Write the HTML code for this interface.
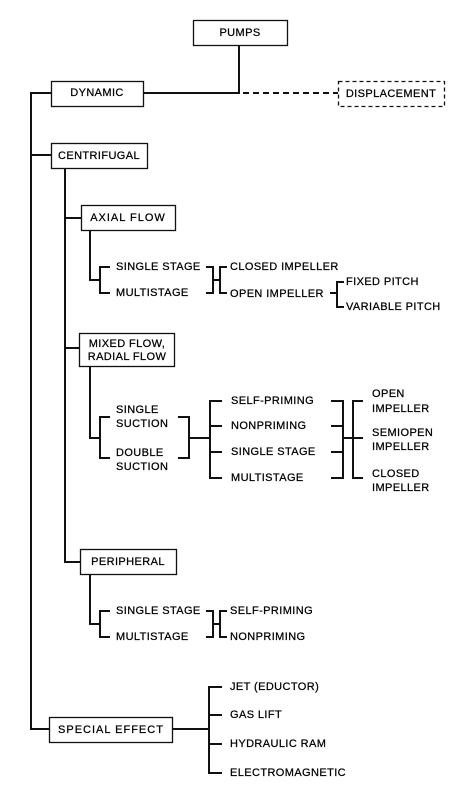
<!DOCTYPE html>
<html><head><meta charset="utf-8"><style>
html,body{margin:0;padding:0;background:#fff;}
svg{display:block;}
text{font-family:"Liberation Sans",sans-serif;font-size:11px;fill:#000;letter-spacing:0.4px;dominant-baseline:central;stroke:#000;stroke-width:0.25px;}
</style></head><body>
<svg width="462" height="789" viewBox="0 0 462 789" xmlns="http://www.w3.org/2000/svg">
<g fill="none" stroke="#111" stroke-width="1.3">
<rect x="193.5" y="20.5" width="94" height="25"/>
<rect x="51.5" y="81.5" width="92" height="25"/>
<rect x="338.5" y="81.5" width="106" height="25" stroke-dasharray="4,3"/>
<rect x="51.5" y="143.5" width="96" height="25"/>
<rect x="81.5" y="205.5" width="94" height="25"/>
<rect x="79.5" y="333.5" width="95" height="33"/>
<rect x="80.5" y="549.5" width="96" height="25"/>
<rect x="49.5" y="717.5" width="123" height="25"/>
</g>
<g fill="none" stroke="#111" stroke-width="2">
<path d="M239 45V93H143"/>
<path d="M243 93H338" stroke-dasharray="6,4"/>
<path d="M51 93H31V729H49"/>
<path d="M31 155H51"/>
<path d="M65 168V562H80M65 218H81M65 348H79"/>
<path d="M90 230V280H100M110 267H100V293H110"/>
<path d="M206 267H213V293H206M213 280H220M227 267H220V293H227"/>
<path d="M330 293H337M344 282H337V307H344"/>
<path d="M90 366V438H100M110 417H100V458H110"/>
<path d="M178 417H189V458H178M189 438H210"/>
<path d="M222 401H210V478H222M210 426H222M210 452H222"/>
<path d="M331 401H343V478H331M331 426H343M331 452H343M343 438H353"/>
<path d="M363 401H353V478H363M353 438H363"/>
<path d="M90 574V624H100M110 611H100V637H110"/>
<path d="M206 611H213V637H206M213 624H220M227 611H220V637H227"/>
<path d="M172 729H209M222 687H209V773H222M209 715H222M209 744H222"/>
</g>
<text x="240" y="33" text-anchor="middle">PUMPS</text>
<text x="97" y="93" text-anchor="middle">DYNAMIC</text>
<text x="391" y="94" text-anchor="middle">DISPLACEMENT</text>
<text x="99" y="156" text-anchor="middle">CENTRIFUGAL</text>
<text x="128" y="218" text-anchor="middle" style="letter-spacing:1px">AXIAL FLOW</text>
<text x="116" y="267">SINGLE STAGE</text>
<text x="116" y="293">MULTISTAGE</text>
<text x="230" y="267">CLOSED IMPELLER</text>
<text x="230" y="294">OPEN IMPELLER</text>
<text x="346" y="282">FIXED PITCH</text>
<text x="346" y="307">VARIABLE PITCH</text>
<text x="127" y="344" text-anchor="middle">MIXED FLOW,</text>
<text x="127" y="357" text-anchor="middle">RADIAL FLOW</text>
<text x="116" y="410">SINGLE</text>
<text x="116" y="424">SUCTION</text>
<text x="116" y="453">DOUBLE</text>
<text x="116" y="467">SUCTION</text>
<text x="231" y="401">SELF-PRIMING</text>
<text x="231" y="426">NONPRIMING</text>
<text x="231" y="452">SINGLE STAGE</text>
<text x="231" y="478">MULTISTAGE</text>
<text x="372" y="394">OPEN</text>
<text x="372" y="409">IMPELLER</text>
<text x="372" y="433">SEMIOPEN</text>
<text x="372" y="447">IMPELLER</text>
<text x="372" y="474">CLOSED</text>
<text x="372" y="488">IMPELLER</text>
<text x="128" y="562" text-anchor="middle">PERIPHERAL</text>
<text x="116" y="611">SINGLE STAGE</text>
<text x="116" y="637">MULTISTAGE</text>
<text x="230" y="611">SELF-PRIMING</text>
<text x="230" y="637">NONPRIMING</text>
<text x="111" y="730" text-anchor="middle" style="letter-spacing:1px">SPECIAL EFFECT</text>
<text x="230" y="687">JET (EDUCTOR)</text>
<text x="230" y="715">GAS LIFT</text>
<text x="230" y="744">HYDRAULIC RAM</text>
<text x="230" y="773">ELECTROMAGNETIC</text>
</svg>
</body></html>
